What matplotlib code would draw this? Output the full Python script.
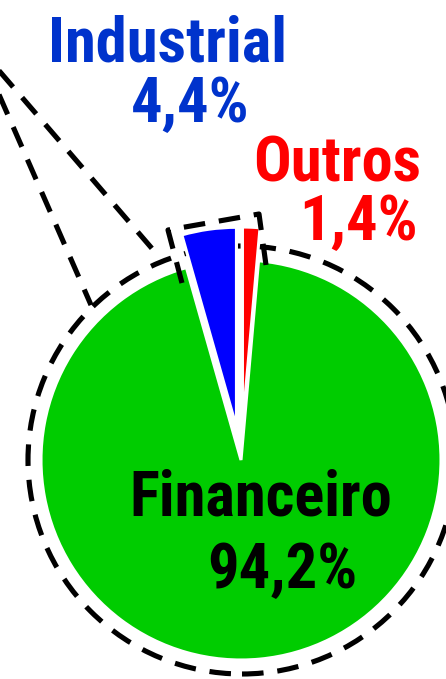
import matplotlib
matplotlib.use("Agg")
import matplotlib.pyplot as plt
import logging
logging.getLogger("matplotlib.font_manager").setLevel(logging.ERROR)

# ---- data ----
categories = ["Financeiro", "Industrial", "Outros"]
values = [94.2, 4.4, 1.4]
colors = ["#00CC00", "#0000FF", "#FF0000"]
label_colors = ["#000000", "#0033CC", "#FF0000"]
explode = [0.0, 0.165, 0.165]

W, H = 446, 679
CX, CY, R = 241, 460, 200  # pie centre / radius in pixels


def P(px, py):
    """pixel -> data coordinates (pie radius = 1)"""
    return (px - CX) / R, (CY - py) / R


fig = plt.figure(figsize=(W / 100, H / 100), dpi=100)
ax = fig.add_axes([0, 0, 1, 1])

total = sum(values)
start = 90 - 360 * values[2] / total
ax.pie(values, colors=colors, explode=explode, startangle=start,
       counterclock=False, radius=1,
       wedgeprops=dict(edgecolor="white", linewidth=2.2, zorder=2))

ax.set_xlim(-CX / R, (W - CX) / R)
ax.set_ylim((CY - H) / R, CY / R)
ax.set_aspect("equal")
ax.axis("off")

dash = (0, (4.2, 2.7))
lw = 3.7

# dashed zoom circle (behind the wedges)
cx, cy = P(242, 460)
circ = plt.Circle((cx, cy), 214 / R, fill=False, color="black", lw=lw,
                  linestyle=dash, zorder=1)
ax.add_patch(circ)

# dashed quad around small slices (three visible sides)
quad = [P(182, 283), P(168, 230), P(259, 214), P(266, 265)]
ax.plot([q[0] for q in quad], [q[1] for q in quad], color="black", lw=lw,
        linestyle=dash, zorder=6)

# dashed connector lines to upper left
for (x0, y0), (x1, y1) in [((-5, 66), (155, 252)), ((-3, 90), (91, 305))]:
    a, b = P(x0, y0), P(x1, y1)
    ax.plot([a[0], b[0]], [a[1], b[1]], color="black", lw=lw,
            linestyle=dash, zorder=6)

fam = ["Roboto Condensed", "DejaVu Sans"]
fs = 45


def pct(v):
    return f"{v:.1f}".replace(".", ",") + "%"


label_pos = {
    "Financeiro": ((261, 515), (282, 588)),
    "Industrial": ((168, 62), (190, 122)),
    "Outros": ((337, 182), (359, 240)),
}
for cat, v, c in zip(categories, values, label_colors):
    (nx, ny), (vx, vy) = label_pos[cat]
    ax.text(*P(nx, ny), cat, color=c, fontsize=fs, fontweight="bold",
            family=fam, ha="center", va="baseline", zorder=10)
    ax.text(*P(vx, vy), pct(v), color=c, fontsize=fs, fontweight="bold",
            family=fam, ha="center", va="baseline", zorder=10)

fig.savefig("out.png", dpi=100)
